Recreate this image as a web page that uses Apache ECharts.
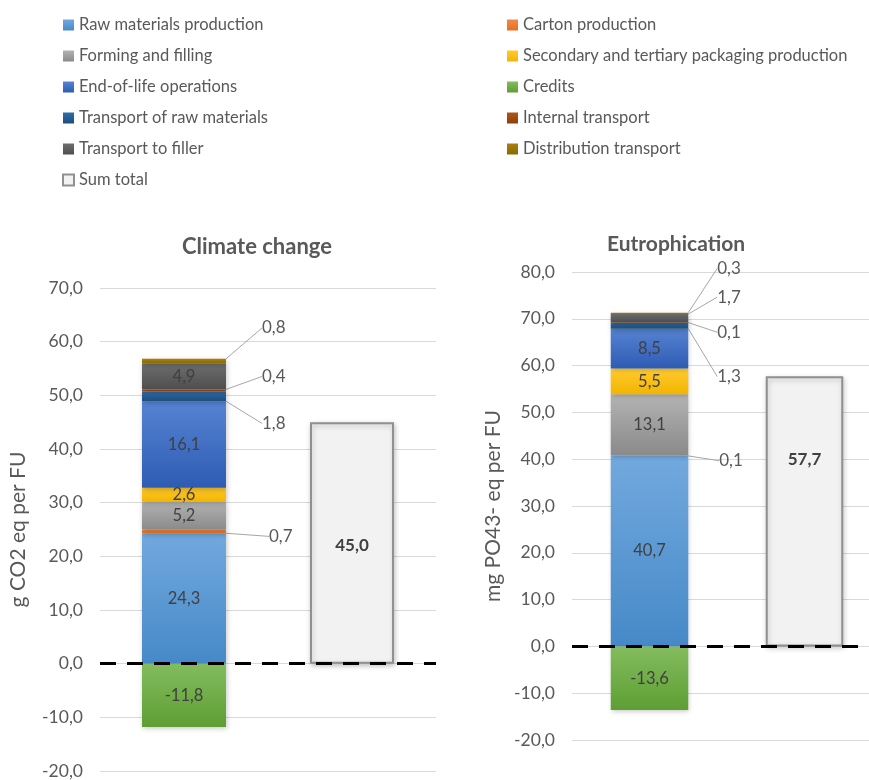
<!DOCTYPE html>
<html>
<head>
<meta charset="utf-8">
<script src="https://cdn.jsdelivr.net/npm/echarts@6/dist/echarts.min.js"></script>
<style>
  html, body { margin: 0; padding: 0; background: #fff; overflow: hidden; }
  #chart { width: 900px; height: 780px; }
</style>
</head>
<body>
<div id="chart"></div>
<script>
// Life-cycle stages (stack order, bottom to top; credits stack below zero)
const stageNames = [
  'Raw materials production',
  'Carton production',
  'Forming and filling',
  'Secondary and tertiary packaging production',
  'End-of-life operations',
  'Credits',
  'Transport of raw materials',
  'Internal transport',
  'Transport to filler',
  'Distribution transport'
];
const totalName = 'Sum total';
const categories = ['Stages', 'Total'];

// Climate change, g CO2 eq per FU
const climateValues = [24.3, 0.7, 5.2, 2.6, 16.1, -11.8, 1.8, 0.4, 4.9, 0.8];
const climateTotal = 45.0;
// Eutrophication, mg PO43- eq per FU
const eutroValues = [40.7, 0.1, 13.1, 5.5, 8.5, -13.6, 1.3, 0.1, 1.7, 0.3];
const eutroTotal = 57.7;

// Axis ranges
const climateAxis = { min: -20, max: 70, interval: 10 };
const eutroAxis = { min: -20, max: 80, interval: 10 };

const grad = (top, bottom) => new echarts.graphic.LinearGradient(0, 0, 0, 1, [
  { offset: 0, color: top }, { offset: 1, color: bottom }
]);
const stageFills = [
  grad('#72A9DE', '#4689C8'),
  grad('#F2894A', '#E4701F'),
  grad('#B3B3B3', '#8A8A8A'),
  grad('#FFCA2E', '#F2B500'),
  grad('#5683D2', '#2E5CB3'),
  grad('#83BC5E', '#5E9E33'),
  grad('#2F6DA8', '#1D4D7C'),
  grad('#B0541A', '#8E3F0B'),
  grad('#6E6E6E', '#4E4E4E'),
  grad('#A77F0E', '#8C6A00')
];

const comma = v => Number(v).toFixed(1).replace('.', ',');
const FONT = 'Lato, "Liberation Sans", sans-serif';

// Small segments get their value placed beside the bar with an elbow leader line.
// dx: gap from bar's right edge to text; dy: shift from segment middle;
// top: leader starts from the segment's top centre instead of its right edge.
const sideLabels = [
  {
    'Carton production': { dx: 43, dy: 5 },
    'Transport of raw materials': { dx: 36, dy: 27 },
    'Internal transport': { dx: 36, dy: -14 },
    'Distribution transport': { dx: 36, dy: -33, top: true }
  },
  {
    'Carton production': { dx: 31, dy: 5 },
    'Transport of raw materials': { dx: 29, dy: 51 },
    'Internal transport': { dx: 29, dy: 10 },
    'Transport to filler': { dx: 29, dy: -21 },
    'Distribution transport': { dx: 29, dy: -45, top: true }
  }
];
const totalLabelShift = [3, -52];

const barShadow = {
  shadowBlur: 5, shadowOffsetX: 1, shadowOffsetY: 2, shadowColor: 'rgba(0,0,0,0.22)'
};

function buildSeries(chartIdx, values, total) {
  const out = [];
  stageNames.forEach((name, k) => {
    const side = sideLabels[chartIdx][name];
    const s = {
      name,
      type: 'bar',
      stack: 'stack' + chartIdx,
      xAxisIndex: chartIdx,
      yAxisIndex: chartIdx,
      barWidth: '50%',
      data: [values[k], '-'],
      itemStyle: Object.assign({ color: stageFills[k] }, barShadow),
      emphasis: { disabled: true }
    };
    if (side) {
      s.label = {
        show: true, position: 'right', formatter: p => comma(p.value),
        color: '#595959', fontSize: 17, fontFamily: FONT
      };
      s.labelLine = { show: true, lineStyle: { color: '#A6A6A6', width: 1 } };
      s.labelLayout = p => {
        const r = p.rect;
        const tx = r.x + r.width + side.dx;
        const ty = r.y + r.height / 2 + side.dy;
        const start = side.top ? [r.x + r.width / 2, r.y] : [r.x + r.width, r.y + r.height / 2];
        return {
          x: tx, y: ty, align: 'left', verticalAlign: 'middle',
          labelLinePoints: [start, [tx - 15, ty], [tx - 4, ty]]
        };
      };
    } else {
      s.label = {
        show: true, position: 'inside', formatter: p => comma(p.value),
        color: '#404040', fontSize: 16.5, fontFamily: FONT
      };
    }
    out.push(s);
  });
  out.push({
    name: totalName,
    type: 'bar',
    stack: 'stack' + chartIdx,
    xAxisIndex: chartIdx,
    yAxisIndex: chartIdx,
    barWidth: '50%',
    data: ['-', total],
    itemStyle: Object.assign({ color: '#F2F2F2', borderColor: '#909090', borderWidth: 2 }, barShadow),
    emphasis: { disabled: true },
    label: {
      show: true, position: 'inside', formatter: p => comma(p.value),
      color: '#404040', fontSize: 17, fontWeight: 'bold', fontFamily: FONT
    },
    labelLayout: { dy: totalLabelShift[chartIdx] },
    markLine: {
      silent: true, symbol: 'none', z: 10,
      label: { show: false },
      lineStyle: { color: '#000', width: 3, type: [16, 11] },
      data: [{ yAxis: 0 }]
    }
  });
  return out;
}

function yAxisFor(idx, range, name, nameGap) {
  return {
    gridIndex: idx, type: 'value',
    min: range.min, max: range.max, interval: range.interval,
    name, nameLocation: 'middle', nameGap, nameRotate: 90,
    nameTextStyle: { color: '#595959', fontSize: 21, fontFamily: FONT },
    axisLine: { show: false }, axisTick: { show: false },
    axisLabel: { color: '#595959', fontSize: 17.5, fontFamily: FONT, margin: 17, formatter: v => comma(v) },
    splitLine: { lineStyle: { color: '#D9D9D9', width: 1 } }
  };
}

function xAxisFor(idx) {
  return {
    gridIndex: idx, type: 'category', data: categories,
    axisLine: { show: false }, axisTick: { show: false }, axisLabel: { show: false },
    splitLine: { show: false }
  };
}

const legendText = { color: '#595959', fontSize: 16.5, fontFamily: FONT, lineHeight: 20 };
const leftLegend = [stageNames[0], stageNames[2], stageNames[4], stageNames[6], stageNames[8], totalName];
const rightLegend = [stageNames[1], stageNames[3], stageNames[5], stageNames[7], stageNames[9]];

const chart = echarts.init(document.getElementById('chart'), null, { renderer: 'canvas' });
chart.setOption({
  animation: false,
  backgroundColor: '#fff',
  textStyle: { fontFamily: FONT },
  title: [
    { text: 'Climate change', left: 257, top: 236, textAlign: 'center', padding: 0,
      textStyle: { color: '#595959', fontSize: 22, fontWeight: 'bold', fontFamily: FONT } },
    { text: 'Eutrophication', left: 676, top: 234, textAlign: 'center', padding: 0,
      textStyle: { color: '#595959', fontSize: 21, fontWeight: 'bold', fontFamily: FONT } }
  ],
  legend: [
    { orient: 'vertical', left: 62, top: 15, padding: 0, itemWidth: 11, itemHeight: 11, itemGap: 11,
      icon: 'rect', data: leftLegend, textStyle: legendText, selectedMode: false },
    { orient: 'vertical', left: 507, top: 15, padding: 0, itemWidth: 11, itemHeight: 11, itemGap: 11,
      icon: 'rect', data: rightLegend, textStyle: legendText, selectedMode: false }
  ],
  grid: [
    { left: 100, top: 288, width: 336, height: 483, containLabel: false },
    { left: 572, top: 272, width: 310, height: 468, containLabel: false }
  ],
  xAxis: [xAxisFor(0), xAxisFor(1)],
  yAxis: [
    yAxisFor(0, climateAxis, 'g CO2 eq per FU', 71),
    yAxisFor(1, eutroAxis, 'mg PO43- eq per FU', 68)
  ],
  series: buildSeries(0, climateValues, climateTotal).concat(buildSeries(1, eutroValues, eutroTotal))
});
</script>
</body>
</html>
